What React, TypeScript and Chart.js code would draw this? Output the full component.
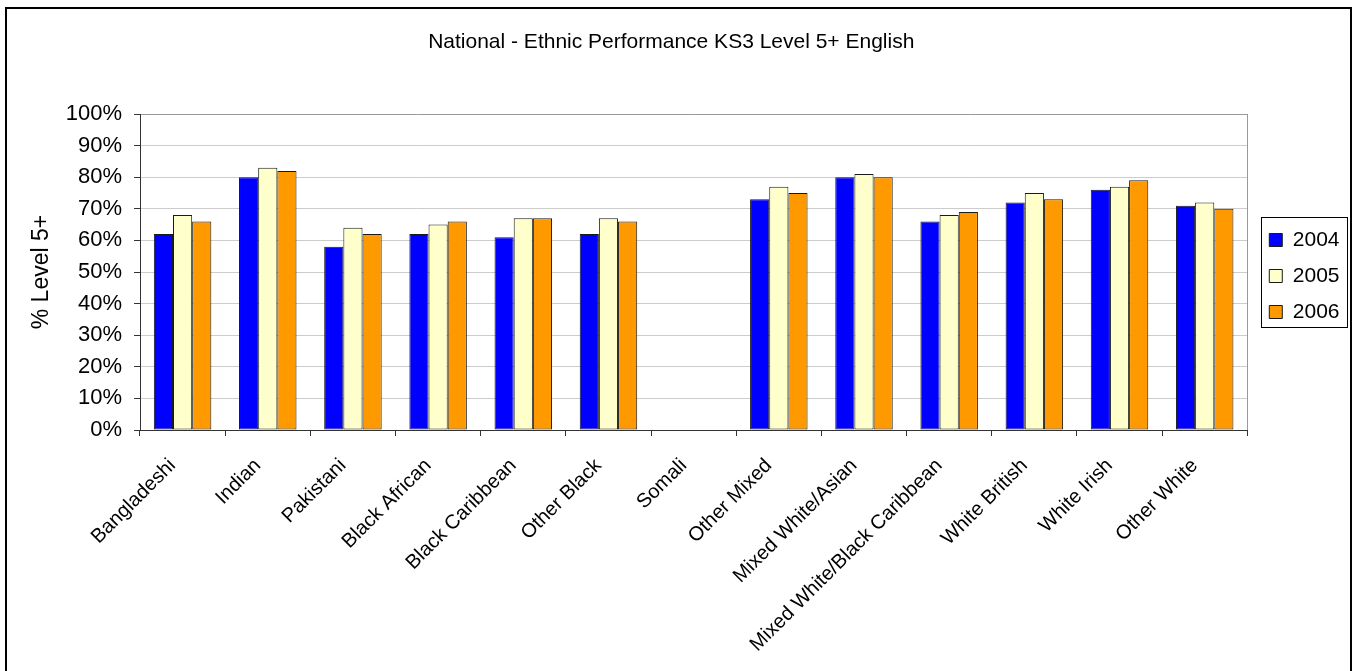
import React, { useEffect, useRef } from 'react';
import { Chart, registerables } from 'chart.js';

Chart.register(...registerables);

const categories = [
  'Bangladeshi',
  'Indian',
  'Pakistani',
  'Black African',
  'Black Caribbean',
  'Other Black',
  'Somali',
  'Other Mixed',
  'Mixed White/Asian',
  'Mixed White/Black Caribbean',
  'White British',
  'White Irish',
  'Other White',
];

const seriesNames = ['2004', '2005', '2006'];

const values2004 = [62, 80, 58, 62, 61, 62, null, 73, 80, 66, 72, 76, 71];
const values2005 = [68, 83, 64, 65, 67, 67, null, 77, 81, 68, 75, 77, 72];
const values2006 = [66, 82, 62, 66, 67, 66, null, 75, 80, 69, 73, 79, 70];

const seriesColors = ['#0000FF', '#FFFFCC', '#FF9900'];

const titleText = 'National - Ethnic Performance KS3 Level 5+ English';
const yAxisTitle = '% Level 5+';
const yMin = 0;
const yMax = 100;
const yStep = 10;

const FONT = '"Liberation Sans", Arial, Helvetica, sans-serif';

export default function App() {
  const canvasRef = useRef<HTMLCanvasElement | null>(null);

  useEffect(() => {
    const canvas = canvasRef.current;
    if (!canvas) return;

    const decorPlugin = {
      id: 'decor',
      afterLayout(chart: any) {
        const lg = chart.legend;
        if (lg) {
          lg.left += 7;
          lg.right += 7;
          lg.top += 4;
          lg.bottom += 4;
        }
      },
      beforeDraw(chart: any) {
        const ctx = chart.ctx;
        ctx.save();
        ctx.strokeStyle = '#000';
        ctx.lineWidth = 2;
        ctx.strokeRect(6, 8, 1345, 700);
        ctx.restore();
      },
      beforeDatasetsDraw(chart: any) {
        const { ctx, chartArea } = chart;
        ctx.save();
        ctx.strokeStyle = '#999';
        ctx.lineWidth = 1;
        ctx.beginPath();
        const x = Math.round(chartArea.right) + 0.5;
        ctx.moveTo(x, chartArea.top);
        ctx.lineTo(x, chartArea.bottom);
        ctx.stroke();
        ctx.restore();
      },
      afterDraw(chart: any) {
        const lg = chart.legend;
        if (!lg || !lg.legendHitBoxes || !lg.legendHitBoxes.length) return;
        const hb = lg.legendHitBoxes;
        const l = Math.min(...hb.map((h: any) => h.left));
        const t = Math.min(...hb.map((h: any) => h.top));
        const r = Math.max(...hb.map((h: any) => h.left + h.width));
        const b = Math.max(...hb.map((h: any) => h.top + h.height));
        const ctx = chart.ctx;
        ctx.save();
        ctx.strokeStyle = '#000';
        ctx.lineWidth = 1;
        const x0 = Math.round(l - 8) + 0.5;
        const y0 = Math.round(t - 12.5) + 0.5;
        const x1 = Math.round(r + 7) + 0.5;
        const y1 = Math.round(b + 4.5) + 0.5;
        ctx.strokeRect(x0, y0, x1 - x0, y1 - y0);
        ctx.restore();
      },
    };

    const chart = new Chart(canvas, {
      type: 'bar',
      data: {
        labels: categories,
        datasets: [values2004, values2005, values2006].map((vals, i) => ({
          label: seriesNames[i],
          data: vals,
          backgroundColor: seriesColors[i],
          borderColor: '#1a1a1a',
          borderWidth: 1,
          borderSkipped: false,
          categoryPercentage: 0.675,
          barPercentage: 1.0,
        })),
      },
      options: {
        responsive: false,
        animation: false,
        devicePixelRatio: 1,
        layout: { padding: { left: 0, right: 13.5, top: 0, bottom: 0 } },
        plugins: {
          title: {
            display: true,
            text: titleText,
            color: '#000',
            font: { family: FONT, size: 21, weight: 'normal' },
            padding: { top: 30, bottom: 58.8 },
          },
          legend: {
            display: true,
            position: 'right',
            align: 'center',
            fullSize: false,
            labels: {
              color: '#000',
              font: { family: FONT, size: 21 },
              boxWidth: 13,
              boxHeight: 13,
              padding: 15,
            },
          },
          tooltip: { enabled: false },
        },
        scales: {
          x: {
            grid: {
              offset: true,
              drawOnChartArea: false,
              drawTicks: true,
              tickLength: 6,
              tickColor: '#333',
            },
            border: { display: true, color: '#333', width: 1 },
            ticks: {
              color: '#000',
              font: { family: FONT, size: 20 },
              minRotation: 45,
              maxRotation: 45,
              autoSkip: false,
              padding: 18,
              labelOffset: -10,
            },
            afterFit(scale: any) {
              scale.height = 241;
            },
          },
          y: {
            min: yMin,
            max: yMax,
            grid: {
              color: (ctx: any) => (ctx.tick && ctx.tick.value === yMax ? '#999' : '#cccccc'),
              lineWidth: 1,
              tickLength: 6,
              tickColor: '#333',
              drawTicks: true,
            },
            border: { display: true, color: '#333', width: 1 },
            ticks: {
              stepSize: yStep,
              color: '#000',
              font: { family: FONT, size: 22 },
              padding: 12,
              callback: (v: any) => `${v}%`,
            },
            title: {
              display: true,
              text: yAxisTitle,
              color: '#000',
              font: { family: FONT, size: 23 },
              padding: { top: 28, bottom: 0 },
            },
            afterFit(scale: any) {
              scale.width = 140;
            },
          },
        },
      },
      plugins: [decorPlugin],
    });

    return () => {
      chart.destroy();
    };
  }, []);

  return (
    <div style={{ position: 'absolute', left: 0, top: 0, width: 1356, height: 671, background: '#fff' }}>
      <canvas ref={canvasRef} width={1356} height={671} style={{ display: 'block' }} />
    </div>
  );
}
